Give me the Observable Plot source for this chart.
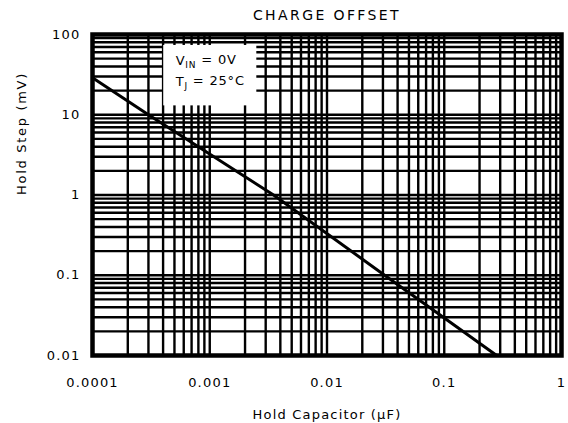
<!DOCTYPE html>
<html>
<head>
<meta charset="utf-8">
<script src="https://cdn.jsdelivr.net/npm/d3@7"></script>
<script src="https://cdn.jsdelivr.net/npm/@observablehq/plot@0.6"></script>
<style>
  html, body { margin: 0; padding: 0; background: #fff; }
  svg text { fill: #000; }
</style>
</head>
<body>
<div id="chart"></div>
<script>
// ---- data ----
const title = "CHARGE OFFSET";
const xLabel = "Hold Capacitor (µF)";
const yLabel = "Hold Step (mV)";
const xDecades = [0.0001, 0.001, 0.01, 0.1, 1];
const yDecades = [0.01, 0.1, 1, 10, 100];
const minorSteps = [2, 3, 4, 5, 6, 7, 8, 9];
const capacitance = [0.0001, 0.0003, 0.0035, 0.031, 0.28];   // µF
const holdStep    = [29, 10, 1, 0.1, 0.01];                   // mV
const legendMain = ["V", "T"];
const legendSub  = ["IN", "J"];
const legendRest = [" = 0V", " = 25°C"];

// ---- derived tables ----
const withMinor = ds => ds.flatMap((d, i) => i < ds.length - 1 ? [d, ...minorSteps.map(m => d * m)] : [d]);
const xGrid = withMinor(xDecades);
const yGrid = withMinor(yDecades);
const curve = capacitance.map((c, i) => ({c, v: holdStep[i]}));
const legend = legendMain.map((m, i) => ({m, s: legendSub[i], r: legendRest[i], y: [47, 25.5][i]}));

const chart = Plot.plot({
  width: 568,
  height: 423,
  marginLeft: 92,
  marginRight: 7,
  marginTop: 34,
  marginBottom: 68,
  style: {fontFamily: "DejaVu Sans", fontSize: "13px", background: "#fff", color: "#000"},
  x: {type: "log", domain: [xDecades[0], xDecades[xDecades.length - 1]], ticks: xDecades, tickFormat: d => String(d), label: null},
  y: {type: "log", domain: [yDecades[0], yDecades[yDecades.length - 1]], ticks: yDecades, tickFormat: d => String(d), label: null},
  marks: [
    Plot.ruleX(xGrid, {stroke: "#000", strokeWidth: 2.4}),
    Plot.ruleY(yGrid, {stroke: "#000", strokeWidth: 2.4}),
    Plot.rect([0], {x1: 0.000405, x2: 0.00252, y1: 12.9, y2: 73, fill: "#fff"}),
    Plot.line(curve, {x: "c", y: "v", stroke: "#000", strokeWidth: 3}),
    Plot.frame({stroke: "#000", strokeWidth: 4.5}),
    Plot.axisX({ticks: xDecades, tickFormat: d => String(d), tickSize: 0, tickPadding: 22, fontSize: 13, className: "xt"}),
    Plot.axisY({ticks: yDecades, tickFormat: d => String(d), tickSize: 0, tickPadding: 12, fontSize: 13, className: "yt"}),
    Plot.text(legend, {x: 0.000512, y: "y", text: "m", textAnchor: "start", fontSize: 13, className: "lg"}),
    Plot.text([title], {frameAnchor: "top", lineAnchor: "middle", dy: -19, fontSize: 14, className: "ttl"}),
    Plot.text([xLabel], {frameAnchor: "bottom", lineAnchor: "middle", dy: 59, fontSize: 13, className: "xl"}),
    Plot.text([yLabel], {frameAnchor: "left", lineAnchor: "middle", rotate: -90, dx: -71, fontSize: 13, className: "yl"})
  ]
});
document.getElementById("chart").appendChild(chart);

const svg = d3.select(chart);
svg.selectAll(".xt text, .yt text").attr("letter-spacing", "1.2");
svg.selectAll(".ttl text").attr("letter-spacing", "2.4");
svg.selectAll(".xl text").attr("letter-spacing", "1.2");
svg.selectAll(".yl text").attr("letter-spacing", "1.7");
svg.selectAll(".lg text").each(function(_, i) {
  const t = d3.select(this).attr("letter-spacing", "0.8");
  t.text(null);
  t.append("tspan").text(legend[i].m);
  t.append("tspan").attr("dy", "0.3em").attr("font-size", "9").text(legend[i].s);
  t.append("tspan").attr("dy", "-0.3em").text(legend[i].r);
});
</script>
</body>
</html>
